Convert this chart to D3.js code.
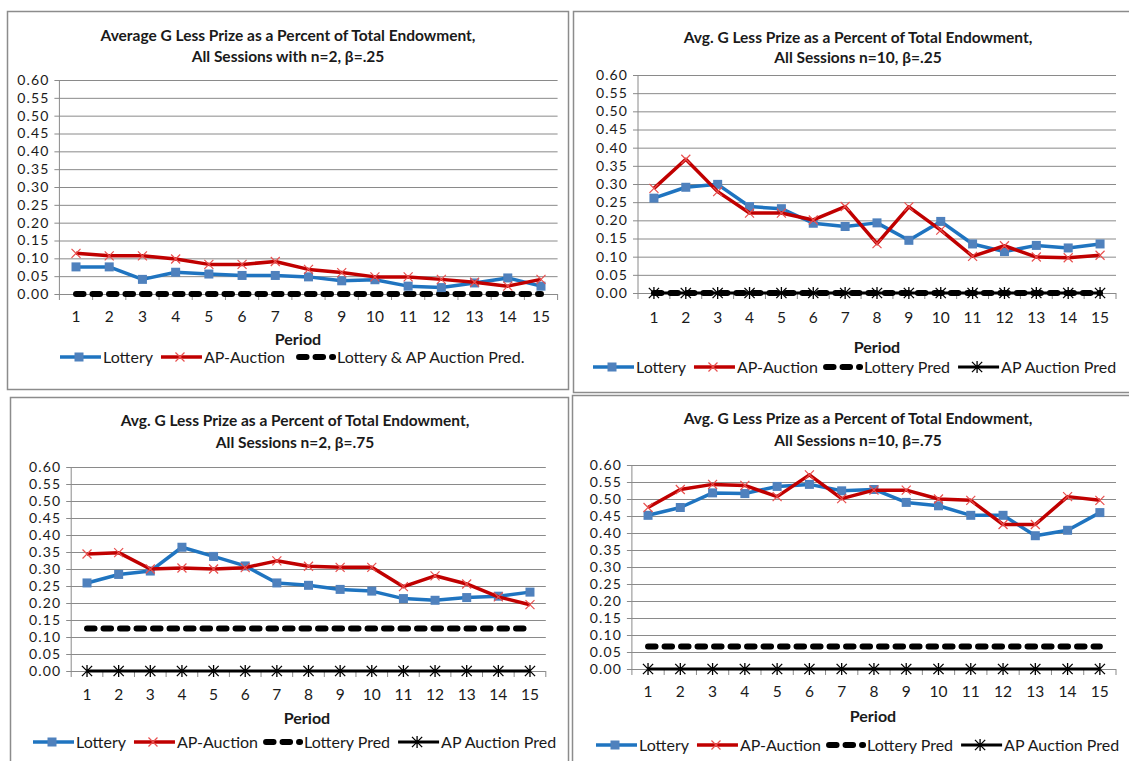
<!DOCTYPE html>
<html>
<head>
<meta charset="utf-8">
<script src="https://d3js.org/d3.v7.min.js"></script>
<style>
  body { margin: 0; background: #fff; }
  svg text { font-family: Lato, "Open Sans", sans-serif; fill: #1a1a1a; }
</style>
</head>
<body>
<script>
// ---- data ----
var periods = [1, 2, 3, 4, 5, 6, 7, 8, 9, 10, 11, 12, 13, 14, 15];
var yTicks = [0, 0.05, 0.10, 0.15, 0.20, 0.25, 0.30, 0.35, 0.40, 0.45, 0.50, 0.55, 0.60];

// n=2, beta=.25
var lottery_n2_b25 = [0.076, 0.076, 0.041, 0.061, 0.056, 0.052, 0.052, 0.048, 0.037, 0.040, 0.022, 0.018, 0.031, 0.045, 0.022];
var auction_n2_b25 = [0.114, 0.107, 0.107, 0.098, 0.083, 0.083, 0.091, 0.069, 0.060, 0.048, 0.048, 0.041, 0.033, 0.022, 0.041];
var pred_n2_b25    = [0, 0, 0, 0, 0, 0, 0, 0, 0, 0, 0, 0, 0, 0, 0];

// n=10, beta=.25
var lottery_n10_b25 = [0.261, 0.291, 0.299, 0.238, 0.232, 0.192, 0.183, 0.193, 0.145, 0.197, 0.135, 0.114, 0.131, 0.124, 0.135];
var auction_n10_b25 = [0.288, 0.368, 0.279, 0.220, 0.220, 0.201, 0.238, 0.136, 0.237, 0.173, 0.101, 0.130, 0.099, 0.097, 0.104];
var lotPred_n10_b25 = [0, 0, 0, 0, 0, 0, 0, 0, 0, 0, 0, 0, 0, 0, 0];
var apPred_n10_b25  = [0, 0, 0, 0, 0, 0, 0, 0, 0, 0, 0, 0, 0, 0, 0];

// n=2, beta=.75
var lottery_n2_b75 = [0.259, 0.284, 0.294, 0.364, 0.337, 0.309, 0.259, 0.252, 0.240, 0.235, 0.213, 0.208, 0.216, 0.220, 0.232];
var auction_n2_b75 = [0.344, 0.348, 0.300, 0.303, 0.300, 0.304, 0.324, 0.308, 0.305, 0.305, 0.248, 0.280, 0.256, 0.218, 0.195];
var lotPred_n2_b75 = [0.125, 0.125, 0.125, 0.125, 0.125, 0.125, 0.125, 0.125, 0.125, 0.125, 0.125, 0.125, 0.125, 0.125, 0.125];
var apPred_n2_b75  = [0, 0, 0, 0, 0, 0, 0, 0, 0, 0, 0, 0, 0, 0, 0];

// n=10, beta=.75
var lottery_n10_b75 = [0.452, 0.475, 0.518, 0.516, 0.537, 0.543, 0.524, 0.528, 0.490, 0.480, 0.452, 0.452, 0.392, 0.408, 0.460];
var auction_n10_b75 = [0.475, 0.528, 0.543, 0.540, 0.507, 0.571, 0.501, 0.526, 0.526, 0.500, 0.496, 0.425, 0.425, 0.507, 0.496];
var lotPred_n10_b75 = [0.066, 0.066, 0.066, 0.066, 0.066, 0.066, 0.066, 0.066, 0.066, 0.066, 0.066, 0.066, 0.066, 0.066, 0.066];
var apPred_n10_b75  = [0, 0, 0, 0, 0, 0, 0, 0, 0, 0, 0, 0, 0, 0, 0];

var titles = [
  ["Average G Less Prize as a Percent of Total Endowment,", "All Sessions with n=2, \u03b2=.25"],
  ["Avg. G Less Prize as a Percent of Total  Endowment,", "All Sessions n=10, \u03b2=.25"],
  ["Avg. G Less Prize as a Percent of Total  Endowment,", "All Sessions n=2, \u03b2=.75"],
  ["Avg. G Less Prize as a Percent of Total  Endowment,", "All Sessions n=10, \u03b2=.75"]
];

// ---- styles ----
var blueLine = "#1f74c0", blueMark = "#4f81bd";
var redLine = "#c00000", redMark = "#e8504f";
var gridColor = "#8a8a8a";

var svg = d3.select("body").append("svg")
    .attr("width", 1129)
    .attr("height", 761);

// one config per chart: layout + which series to draw
var panels = [
  { box: [7, 11, 561, 378], titleX: 288, titleY: [36, 57],
    plot: { left: 59.4, right: 557.6, top: 80, bottom: 294 },
    xLabelY: 317, periodX: 298, periodY: 339, legendX: 57, legendY: 357,
    series: [
      { name: "Lottery", values: lottery_n2_b25, type: "lottery" },
      { name: "AP-Auction", values: auction_n2_b25, type: "auction" },
      { name: "Lottery & AP Auction Pred.", values: pred_n2_b25, type: "lotPred" }
    ], title: titles[0] },
  { box: [573, 11, 570, 381], titleX: 858, titleY: [38, 58],
    plot: { left: 638, right: 1116, top: 75, bottom: 293 },
    xLabelY: 318, periodX: 877, periodY: 347, legendX: 590, legendY: 367,
    series: [
      { name: "Lottery", values: lottery_n10_b25, type: "lottery" },
      { name: "AP-Auction", values: auction_n10_b25, type: "auction" },
      { name: "Lottery Pred", values: lotPred_n10_b25, type: "lotPred" },
      { name: "AP Auction Pred", values: apPred_n10_b25, type: "apPred" }
    ], title: titles[1] },
  { box: [10, 397, 558, 380], titleX: 295, titleY: [421, 443],
    plot: { left: 71.2, right: 545.8, top: 467, bottom: 671 },
    xLabelY: 695, periodX: 307, periodY: 718, legendX: 30, legendY: 742,
    series: [
      { name: "Lottery", values: lottery_n2_b75, type: "lottery" },
      { name: "AP-Auction", values: auction_n2_b75, type: "auction" },
      { name: "Lottery Pred", values: lotPred_n2_b75, type: "lotPred" },
      { name: "AP Auction Pred", values: apPred_n2_b75, type: "apPred" }
    ], title: titles[2] },
  { box: [572, 395, 570, 380], titleX: 858, titleY: [419, 441],
    plot: { left: 631.9, right: 1116, top: 465, bottom: 669 },
    xLabelY: 692, periodX: 873, periodY: 716, legendX: 593, legendY: 745,
    series: [
      { name: "Lottery", values: lottery_n10_b75, type: "lottery" },
      { name: "AP-Auction", values: auction_n10_b75, type: "auction" },
      { name: "Lottery Pred", values: lotPred_n10_b75, type: "lotPred" },
      { name: "AP Auction Pred", values: apPred_n10_b75, type: "apPred" }
    ], title: titles[3] }
];

// marker drawing helpers
function drawMarker(g, type, x, y) {
  if (type === "lottery") {
    g.append("rect").attr("x", x - 4.5).attr("y", y - 4.5)
      .attr("width", 9).attr("height", 9).attr("fill", blueMark);
  } else if (type === "auction") {
    var s = 4.5;
    g.append("path")
      .attr("d", "M" + (x - s) + "," + (y - s) + "L" + (x + s) + "," + (y + s) +
                 "M" + (x - s) + "," + (y + s) + "L" + (x + s) + "," + (y - s))
      .attr("stroke", redMark).attr("stroke-width", 1.2).attr("fill", "none");
  } else if (type === "apPred") {
    var r = 6;
    g.append("path")
      .attr("d", "M" + x + "," + (y - r) + "L" + x + "," + (y + r) +
                 "M" + (x - r * 0.85) + "," + (y - r * 0.85) + "L" + (x + r * 0.85) + "," + (y + r * 0.85) +
                 "M" + (x - r * 0.85) + "," + (y + r * 0.85) + "L" + (x + r * 0.85) + "," + (y - r * 0.85))
      .attr("stroke", "#000").attr("stroke-width", 1.3).attr("fill", "none");
  }
}

function styleLine(sel, type) {
  if (type === "lottery") sel.attr("stroke", blueLine).attr("stroke-width", 3.5);
  else if (type === "auction") sel.attr("stroke", redLine).attr("stroke-width", 3.5);
  else if (type === "lotPred") sel.attr("stroke", "#000").attr("stroke-width", 6)
      .attr("stroke-linecap", "round").attr("stroke-dasharray", "7.5 9");
  else sel.attr("stroke", "#000").attr("stroke-width", 3);
  sel.attr("fill", "none").attr("stroke-linejoin", "round");
}

panels.forEach(function (p) {
  var g = svg.append("g");

  g.append("rect")
    .attr("x", p.box[0] + 0.5).attr("y", p.box[1] + 0.5)
    .attr("width", p.box[2]).attr("height", p.box[3])
    .attr("fill", "#fff").attr("stroke", "#8c8c8c").attr("stroke-width", 1.5);

  // title
  g.selectAll("text.title")
    .data(p.title)
    .enter().append("text")
      .attr("class", "title")
      .attr("x", p.titleX)
      .attr("y", function (d, i) { return p.titleY[i]; })
      .attr("dy", "0.35em")
      .attr("text-anchor", "middle")
      .style("font-size", "15.5px")
      .style("font-weight", "bold")
      .text(function (d) { return d; });

  var x = d3.scaleBand().domain(periods).range([p.plot.left, p.plot.right]);
  var y = d3.scaleLinear().domain([0, 0.6]).range([p.plot.bottom, p.plot.top]);
  var cx = function (d, i) { return x(periods[i]) + x.bandwidth() / 2; };

  // horizontal gridlines + y axis
  var yAxis = d3.axisLeft(y).tickValues(yTicks).tickFormat(d3.format(".2f"))
    .tickSize(-(p.plot.right - p.plot.left)).tickPadding(0);
  var ya = g.append("g")
    .attr("transform", "translate(" + p.plot.left + ",0)")
    .call(yAxis);
  ya.select(".domain").remove();
  ya.selectAll("line").attr("stroke", gridColor).attr("x2", p.plot.right - p.plot.left).attr("x1", -5);
  ya.selectAll("text").attr("x", -10)
    .style("font-size", "14px").style("letter-spacing", "1.1px")
    .attr("fill", "#1a1a1a");
  g.append("line")
    .attr("x1", p.plot.left).attr("x2", p.plot.left)
    .attr("y1", p.plot.top).attr("y2", p.plot.bottom)
    .attr("stroke", gridColor);

  // x axis: ticks between categories
  var xa = g.append("g").attr("transform", "translate(0," + p.plot.bottom + ")");
  xa.selectAll("line.tick")
    .data(periods.concat([16]))
    .enter().append("line")
      .attr("x1", function (d, i) { return p.plot.left + i * x.step(); })
      .attr("x2", function (d, i) { return p.plot.left + i * x.step(); })
      .attr("y1", 0).attr("y2", 6)
      .attr("stroke", gridColor);
  g.selectAll("text.xl")
    .data(periods)
    .enter().append("text")
      .attr("class", "xl")
      .attr("x", function (d) { return x(d) + x.bandwidth() / 2; })
      .attr("y", p.xLabelY).attr("dy", "0.35em")
      .attr("text-anchor", "middle")
      .style("font-size", "15.5px")
      .text(function (d) { return d; });

  g.append("text")
    .attr("x", p.periodX)
    .attr("y", p.periodY).attr("dy", "0.35em")
    .attr("text-anchor", "middle")
    .style("font-size", "16px").style("font-weight", "bold")
    .text("Period");

  // series (preds first so data lines sit on top)
  var order = ["lotPred", "apPred", "lottery", "auction"];
  var line = d3.line().x(cx).y(function (d) { return y(d); });
  order.forEach(function (t) {
    p.series.filter(function (s) { return s.type === t; }).forEach(function (s) {
      var sg = g.append("g");
      styleLine(sg.append("path").attr("d", line(s.values)), t);
      s.values.forEach(function (v, i) { drawMarker(sg, t, cx(v, i), y(v)); });
    });
  });

  // legend
  var lx = p.legendX;
  p.series.forEach(function (s, i) {
    var lg = g.append("g");
    var dashed = s.type === "lotPred";
    var len = dashed ? 37 : 44;
    if (dashed && p.series.length === 3) lx += 6;
    var sample = lg.append("path")
      .attr("d", "M" + (lx + 3) + "," + p.legendY + "H" + (lx + len));
    styleLine(sample, s.type);
    drawMarker(lg, s.type, lx + len / 2, p.legendY);
    var t = lg.append("text")
      .attr("x", lx + len + (dashed ? 4 : 2)).attr("y", p.legendY).attr("dy", "0.35em")
      .style("font-size", "16px")
      .text(s.name);
    lx += len + (dashed ? 4 : 2) + t.node().getComputedTextLength() + 5;
  });
});
</script>
</body>
</html>
